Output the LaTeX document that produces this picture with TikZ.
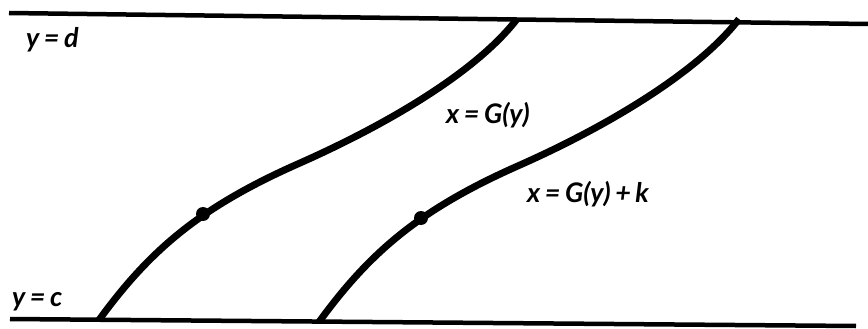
\documentclass[tikz,border=0pt]{standalone}
\usepackage{fontspec}
\setsansfont{Lato}
\begin{document}
\begin{tikzpicture}[x=1pt,y=-1pt,
  bound/.style={line width=4.5pt},
  curve/.style={line width=7pt},
  lbl/.style={font=\sffamily\bfseries\itshape\fontsize{27}{27}\selectfont, inner sep=0pt, anchor=base west},
  pt/.style={circle, fill=black, inner sep=0pt, minimum size=14pt}]
\useasboundingbox (0,0) rectangle (868,329);
% boundary lines
\coordinate (tl) at (9,13);
\coordinate (tr) at (868,24);
\coordinate (bl) at (10,319);
\coordinate (br) at (856,326);
\draw[bound] (tl) -- (tr);
\draw[bound] (bl) -- (br);
% curves
\coordinate (a0) at (99,320);
\coordinate (a1) at (300,163);
\coordinate (a2) at (517,19);
\draw[curve] (a0) .. controls (150,250) and (200,207) .. (a1)
                  .. controls (390,123) and (477,71) .. (a2);
\begin{scope}[shift={(220,2)}]
\coordinate (b0) at (99,320);
\coordinate (b1) at (300,163);
\coordinate (b2) at (519,17);
\draw[curve] (b0) .. controls (150,250) and (200,207) .. (b1)
                  .. controls (390,123) and (479,69) .. (b2);
\end{scope}
\node[pt] (p1) at (203,214) {};
\node[pt] (p2) at (421,218) {};
% labels
\node[lbl] (yd) at (26,48) {y\,=\,d};
\node[lbl] (yc) at (12,306) {y\,=\,c};
\node[lbl] (g1) at (446,124) {x\,=\,G(y)};
\node[lbl] (g2) at (527,202) {x\,=\,G(y)\,+\,k};
\end{tikzpicture}
\end{document}
